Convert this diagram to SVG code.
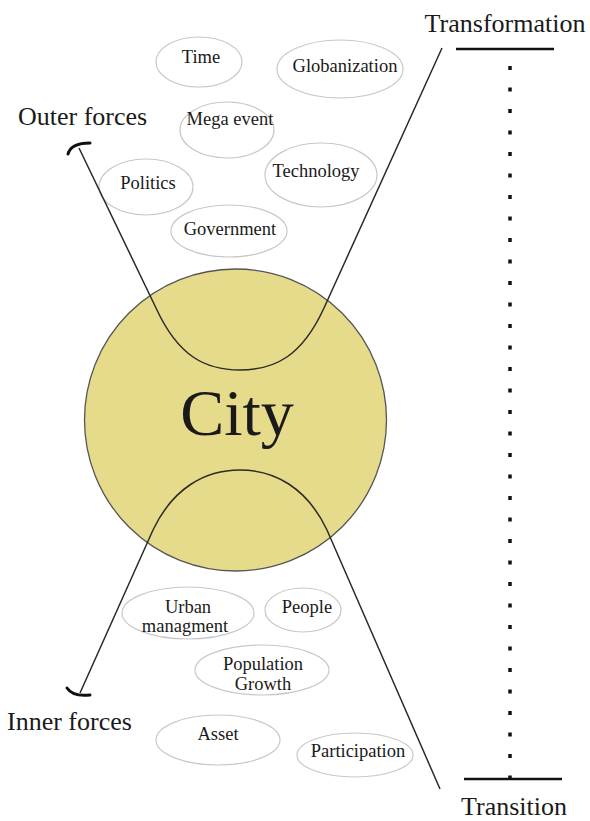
<svg xmlns="http://www.w3.org/2000/svg" width="590" height="821" viewBox="0 0 590 821">
<style>
text{font-family:"Liberation Serif","Times New Roman",serif;fill:#1a1a1a}
.f{fill:#fff;stroke:#c8c8c8;stroke-width:1.2}
.t{font-size:18.5px;text-anchor:middle}
.big{font-size:26px}
.c{fill:none;stroke:#2a2a2a;stroke-width:1.5}
.h{fill:none;stroke:#111;stroke-width:3;stroke-linecap:round}
</style>
<rect width="590" height="821" fill="#fff"/>
<g id="city">
<circle cx="235.5" cy="420" r="151" fill="#E6DB8A" stroke="#555" stroke-width="1.3"/>
<text x="237" y="435" font-size="66" text-anchor="middle">City</text>
</g>
<g id="time"><ellipse class="f" cx="199" cy="62" rx="43" ry="25"/><text class="t" x="201" y="63">Time</text></g>
<g id="globanization"><ellipse class="f" cx="340" cy="69" rx="63" ry="29"/><text class="t" x="345" y="72">Globanization</text></g>
<g id="mega-event"><ellipse class="f" cx="227" cy="130" rx="47" ry="28"/><text class="t" x="230" y="125">Mega event</text></g>
<g id="technology"><ellipse class="f" cx="321" cy="175" rx="56" ry="32"/><text class="t" x="316" y="177">Technology</text></g>
<g id="politics"><ellipse class="f" cx="146" cy="187" rx="47" ry="28"/><text class="t" x="148" y="189">Politics</text></g>
<g id="government"><ellipse class="f" cx="229" cy="231" rx="58" ry="26"/><text class="t" x="230" y="235">Government</text></g>
<g id="urban-managment"><ellipse class="f" cx="188" cy="613" rx="66" ry="26"/><text class="t" x="188" y="613">Urban</text><text class="t" x="185" y="632">managment</text></g>
<g id="people"><ellipse class="f" cx="303" cy="610" rx="38" ry="22"/><text class="t" x="307" y="613">People</text></g>
<g id="population-growth"><ellipse class="f" cx="262" cy="670" rx="67" ry="25"/><text class="t" x="263" y="670">Population</text><text class="t" x="263" y="690">Growth</text></g>
<g id="asset"><ellipse class="f" cx="218" cy="740" rx="62" ry="25"/><text class="t" x="218" y="740">Asset</text></g>
<g id="participation"><ellipse class="f" cx="355" cy="755" rx="58" ry="22"/><text class="t" x="358" y="757">Participation</text></g>
<g id="labels">
<text class="big" x="18" y="125">Outer forces</text>
<text class="big" x="7" y="730">Inner forces</text>
<text class="big" x="505" y="32" text-anchor="middle">Transformation</text>
<text class="big" x="514" y="815" text-anchor="middle">Transition</text>
</g>
<g id="connectors">
<path class="c" d="M79,148 L156,308 C178,356 205,370 240,370 C275,370 302,356 324,308 L442,48"/>
<path class="c" d="M80,693 L153,530 C173,488 205,470 240,470 C275,470 307,488 327,530 L440,789"/>
<path class="h" d="M68,154 Q71,143 90,143"/>
<path class="h" d="M67,688 Q73,697 90,695"/>
<line x1="456" y1="49" x2="554" y2="49" stroke="#111" stroke-width="2.5"/>
<line x1="464" y1="779" x2="562" y2="779" stroke="#111" stroke-width="2.5"/>
<line x1="510" y1="66" x2="510" y2="781" stroke="#111" stroke-width="3.5" stroke-dasharray="4 17.5"/>
</g>
</svg>
